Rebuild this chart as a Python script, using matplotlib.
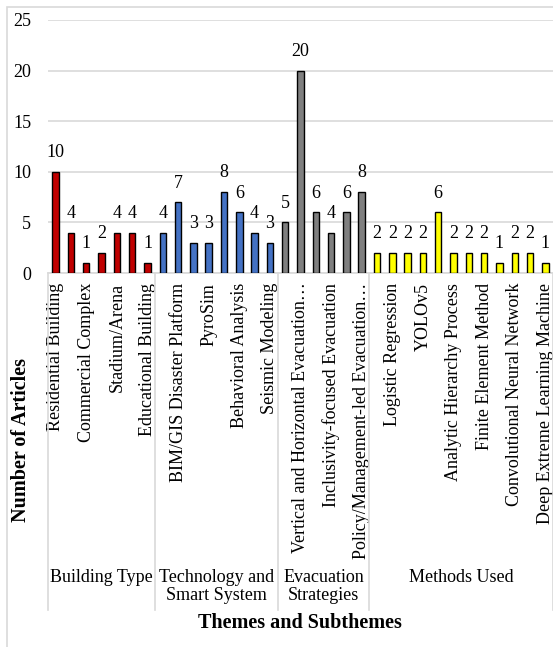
import matplotlib
matplotlib.use("Agg")
import matplotlib.pyplot as plt
from matplotlib.lines import Line2D
from matplotlib.patches import Rectangle

plt.rcParams['font.family'] = ['Liberation Serif', 'DejaVu Serif']

# article counts per subtheme, grouped by theme
building_counts = [10, 4, 1, 2, 4, 4, 1]
technology_counts = [4, 7, 3, 3, 8, 6, 4, 3]
evacuation_counts = [5, 20, 6, 4, 6, 8]
methods_counts = [2, 2, 2, 2, 6, 2, 2, 2, 1, 2, 2, 1]

# only every other subtheme name gets printed on the axis
building_labels = ["Residential Building", "", "Commercial Complex", "",
                   "Stadium/Arena", "", "Educational Building"]
technology_labels = ["", "BIM/GIS Disaster Platform", "", "PyroSim", "",
                     "Behavioral Analysis", "", "Seismic Modeling"]
evacuation_labels = ["", "Vertical and Horizontal Evacuation…", "",
                     "Inclusivity-focused Evacuation", "",
                     "Policy/Management-led Evacuation…"]
methods_labels = ["", "Logistic Regression", "", "YOLOv5", "",
                  "Analytic Hierarchy Process", "", "Finite Element Method", "",
                  "Convolutional Neural Network", "",
                  "Deep Extreme Learning Machine"]

themes = ["Building Type", "Technology and\nSmart System",
          "Evacuation\nStrategies", "Methods Used"]
theme_colors = ["#c00000", "#4472c4", "#7f7f7f", "#ffff00"]

groups = [building_counts, technology_counts, evacuation_counts, methods_counts]
group_labels = [building_labels, technology_labels, evacuation_labels, methods_labels]

W, H = 553, 647
fig = plt.figure(figsize=(W / 100, H / 100), dpi=100)
ax = fig.add_axes([48 / W, 1 - 273 / H, 505 / W, 253 / H])

counts, labels, colors, bounds = [], [], [], [0]
for vals, labs, col in zip(groups, group_labels, theme_colors):
    counts += vals
    labels += labs
    colors += [col] * len(vals)
    bounds.append(bounds[-1] + len(vals))

x = list(range(len(counts)))
bars = ax.bar(x, counts, width=0.42, color=colors, edgecolor="black",
              linewidth=1.0, zorder=3)
for xi, v in zip(x, counts):
    ax.annotate(str(v), (xi, v), xytext=(0, 10.5), textcoords="offset points",
                ha="center", va="baseline", fontsize=13)

ax.set_xlim(-0.5, len(counts) - 0.5)
ax.set_ylim(0, 25)
ax.set_yticks(range(0, 26, 5))
ax.tick_params(axis="y", length=0, pad=12, labelsize=13)
ax.grid(axis="y", color="#d9d9d9", linewidth=1.2, zorder=0)
ax.set_xticks(x)
ax.set_xticklabels(labels, rotation=90, fontsize=13, va="top", ha="center")
ax.tick_params(axis="x", length=0, pad=7)
for s in ["top", "right", "left"]:
    ax.spines[s].set_visible(False)
ax.spines["bottom"].set_color("#d9d9d9")
ax.spines["bottom"].set_linewidth(1.2)

# theme boxes under the subtheme labels
trans = ax.get_xaxis_transform()
box_bottom = -(610 - 273) / 253
for b in bounds:
    ax.add_line(Line2D([b - 0.5, b - 0.5], [0, box_bottom], transform=trans,
                       color="#d9d9d9", linewidth=1.2, clip_on=False))
for i, name in enumerate(themes):
    mid = (bounds[i] + bounds[i + 1] - 1) / 2
    ax.text(mid, -(569 - 273) / 253, name, transform=trans, ha="center",
            va="top", fontsize=13, linespacing=1.05)

fig.text(300 / W, 1 - 623 / H, "Themes and Subthemes", ha="center",
         va="center", fontsize=14.5, fontweight="bold")
fig.text(21 / W, 1 - 440 / H, "Number of Articles", ha="center", va="center",
         rotation=90, fontsize=14.5, fontweight="bold")

# outer chart frame
fig.patches.append(Rectangle((7 / W, -0.1), 1.2, 1 - 7 / H + 0.1,
                             transform=fig.transFigure, fill=False,
                             edgecolor="#d9d9d9", linewidth=1.2))

fig.savefig("out.png", dpi=100)
